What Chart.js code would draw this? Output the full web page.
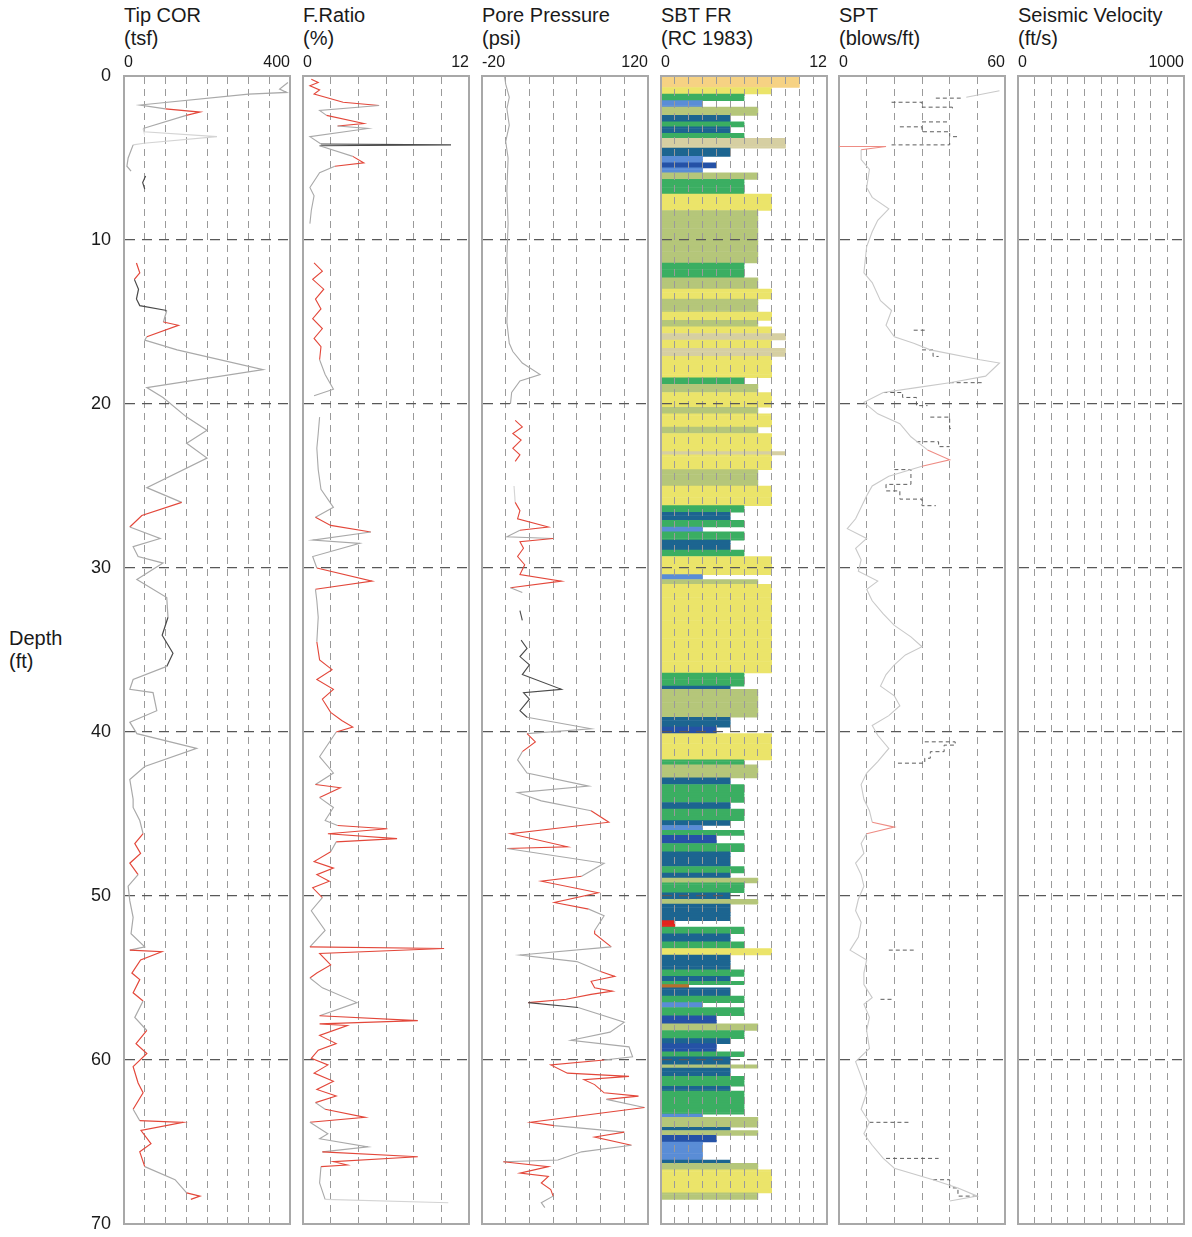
<!DOCTYPE html>
<html><head><meta charset="utf-8">
<script src="https://cdn.jsdelivr.net/npm/chart.js@4.4.1/dist/chart.umd.min.js"></script>
<style>
body{margin:0;background:#fff;width:1192px;height:1237px;position:relative;overflow:hidden;font-family:"Liberation Sans",Arial,sans-serif;}
.t{position:absolute;font-size:20px;line-height:23px;color:#1a1a1a;white-space:nowrap;}
canvas{position:absolute;}
</style></head><body>
<script>
// ---------------- DATA ----------------
const panelTitles = [["Tip COR","(tsf)"],["F.Ratio","(%)"],["Pore Pressure","(psi)"],["SBT FR","(RC 1983)"],["SPT","(blows/ft)"],["Seismic Velocity","(ft/s)"]];
const axisLabels = [["0","400"],["0","12"],["-20","120"],["0","12"],["0","60"],["0","1000"]];
const axisRanges = [[0,400,50],[0,12,2],[-20,120,20],[0,12,1],[0,60,10],[0,1000,100]];
const depthTicks = [0,10,20,30,40,50,60,70];
const depthTickLabels = ["0","10","20","30","40","50","60","70"];
const depthTitle = ["Depth","(ft)"];

// [depth ft, value]; null = gap in record
const tipProfile = [[0.4,395],[0.8,375],[1.0,392],[1.1,300],[1.77,39],[2.0,100],[2.2,183],[2.4,150],[3.2,46],[3.4,48],[3.7,224],[4.1,48],[4.2,22],[5.0,10],[5.5,7],[5.8,17],null,[6.1,52],[6.5,45],[6.9,50],null,[11.4,30],[12.0,38],[12.4,25],[13.0,35],[13.6,30],[14.0,38],[14.3,103],[15.0,95],[15.2,131],[15.9,55],[16.1,50],[16.7,128],[17.9,335],[19.0,55],[19.6,94],[20.8,151],[21.6,200],[22.4,151],[23.3,200],[25.1,55],[26.0,139],[26.8,43],[27.5,14],[28.2,87],[28.7,22],[29.3,34],[29.7,94],[30.7,31],[31.8,103],[33.0,106],[34.1,92],[35.2,118],[36.0,103],[36.8,22],[37.4,14],[37.6,70],[38.7,79],[39.4,14],[40.1,31],[41.0,175],[42.1,50],[42.9,14],[44.1,22],[44.6,22],[45.4,38],[46.2,46],[46.8,26],[47.4,40],[48.0,14],[48.7,34],[49.4,10],[50.3,14],[51.3,22],[52.3,17],[53.1,50],[53.3,14],[53.4,91],[53.9,40],[54.7,19],[55.1,38],[55.9,22],[56.4,46],[57.4,26],[58.2,55],[59.0,29],[59.6,55],[60.4,22],[61.4,34],[62.0,46],[63.0,22],[63.7,38],[63.8,142],[64.3,41],[65.1,65],[65.6,38],[66.5,50],[67.3,123],[68.1,151],[68.3,183],[68.5,161]];
const tipFlagged = [[2.15,2.25],[11.3,12.05],[15.05,15.25],[26.75,26.85],[46.75,48.05],[53.35,55.95],[58.95,59.05],[60.35,62.05],[63.75,63.85],[65.05,65.65],[68.25,68.55]];
const tipDark = [[6.0,7.0],[12.3,14.05],[34.05,35.25]];
const tipFaint = [[3.35,4.15]];

const frProfile = [[0.2,0.6],[0.4,1.1],[0.6,0.5],[0.85,1.2],[1.1,0.8],[1.6,2.9],[1.8,5.5],[2.1,1.2],[2.4,1.7],[2.9,4.4],[3.05,2.5],[3.2,4.7],[3.7,0.5],[4.15,1.3],[4.2,10.7],[4.25,1.2],[4.9,3.6],[5.3,4.4],[5.5,2.3],[5.9,1.2],[6.8,0.5],[7.3,0.8],[8.2,0.6],[9.0,0.5],null,[11.4,0.8],[11.9,1.4],[12.4,0.7],[13.0,1.5],[13.6,0.9],[14.2,1.3],[14.8,0.7],[15.4,1.4],[16.0,0.8],[16.5,1.3],[17.3,1.2],[18.2,1.6],[19.1,2.2],[19.5,0.8],null,[20.8,1.2],[21.8,1.1],[22.7,1.0],[24.0,1.1],[25.2,1.3],[26.3,2.2],[26.9,0.9],[27.4,2.0],[27.8,4.9],[28.3,0.7],[28.5,4.1],[29.3,0.7],[30.0,1.0],[30.8,5.0],[31.3,0.9],[32.0,1.0],[33.0,1.1],[34.5,1.0],[35.6,1.2],[36.2,2.1],[36.8,1.0],[37.4,2.2],[38.0,1.4],[38.8,2.0],[39.3,2.8],[39.7,3.6],[40.0,2.4],[41.5,1.2],[42.5,2.2],[43.2,0.9],[43.4,2.7],[44.0,1.2],[44.6,2.2],[45.4,1.6],[45.7,2.5],[45.9,6.1],[46.2,1.8],[46.5,6.8],[46.7,2.4],[47.3,2.0],[47.9,0.8],[48.3,2.2],[48.7,1.0],[49.1,1.9],[49.5,0.7],[50.1,1.4],[50.9,0.6],[52.1,1.6],[53.1,0.5],[53.2,10.2],[53.5,1.2],[54.2,2.0],[54.7,1.0],[55.0,0.5],[55.6,1.4],[56.5,3.9],[57.3,1.2],[57.6,8.3],[57.8,1.2],[57.9,3.2],[58.5,1.2],[59.0,2.4],[59.4,1.1],[59.9,0.6],[60.3,1.8],[60.8,0.8],[61.3,2.2],[61.8,1.0],[62.2,2.4],[62.6,0.9],[63.0,1.6],[63.5,4.5],[63.8,0.5],[64.5,1.8],[64.8,1.2],[65.3,4.7],[65.6,1.4],[65.9,8.3],[66.2,2.2],[66.4,3.2],[66.5,1.3],[67.5,1.2],[68.5,1.6],[68.7,10.5]];
const frFlagged = [[0.1,0.9],[1.55,1.65],[2.85,2.95],[5.25,5.35],[11.3,16.6],[27.35,27.45],[30.75,30.85],[35.5,39.75],[43.35,43.45],[45.85,45.95],[46.45,46.55],[47.8,49.6],[53.15,53.25],[54.1,54.8],[57.55,57.65],[57.85,59.45],[60.25,60.35],[61.25,61.35],[62.15,62.25],[63.45,63.55],[65.85,65.95],[66.35,66.45]];
const frDark = [[4.19,4.21]];
const frFaint = [[68.6,68.8]];

const poreProfile = [[0.0,-1],[0.5,0],[1.3,3],[2.0,1],[3.0,3],[4.0,0],[5.0,2],[7.0,1],[9.0,2],[11.0,1],[13.0,2],[15.0,1],[16.3,3],[16.8,6],[17.5,14],[18.2,29],[18.6,12],[19.3,5],[20.0,4],null,[21.0,8],[21.4,14],[21.8,6],[22.2,13],[22.7,6],[23.1,12],[23.5,8],null,[25.0,7],[26.0,8],[26.5,12],[27.0,10],[27.5,36],[27.7,12],[28.1,1],[28.2,40],[28.4,12],[28.8,15],[29.3,10],[29.8,16],[30.4,12],[30.8,47],[31.2,4],[31.5,14],null,[32.6,12],[33.2,14],null,[34.4,13],[34.9,18],[35.4,12],[35.9,20],[36.5,14],[37.4,47],[37.6,15],[38.0,20],[38.7,12],[39.1,18],[39.8,72],[40.1,18],[40.6,25],[41.2,14],[41.7,10],[42.5,18],[43.3,70],[43.7,10],[44.2,30],[44.8,72],[45.5,87],[46.2,4],[47.0,52],[47.1,1],[48.0,83],[48.8,64],[49.1,30],[49.8,78],[50.4,41],[50.8,70],[51.2,83],[52.1,75],[52.3,75],[53.1,89],[53.6,12],[54.0,60],[54.6,80],[54.9,92],[55.2,72],[55.6,75],[55.8,90],[56.0,72],[56.3,51],[56.5,19],[56.8,61],[57.7,100],[58.3,88],[58.8,55],[59.2,104],[59.8,107],[60.0,83],[60.3,38],[60.8,52],[61.0,104],[61.2,66],[61.5,75],[62.0,83],[62.2,112],[62.4,85],[62.9,117],[63.8,21],[64.0,41],[64.4,100],[64.7,75],[65.2,106],[65.6,64],[66.1,44],[66.2,-2],[66.5,36],[66.9,12],[67.1,36],[67.5,30],[67.9,38],[68.3,40],[68.7,30],[69.0,33]];
const poreFlagged = [[20.9,23.6],[26.45,27.55],[28.35,30.85],[40.55,40.65],[45.45,45.55],[46.95,47.05],[49.05,49.15],[50.35,50.45],[52.25,52.35],[54.85,54.95],[55.55,55.85],[56.25,56.35],[60.25,62.25],[63.75,63.85],[64.65,64.75],[66.45,66.55],[67.05,67.95]];
const poreDark = [[32.5,39.05],[56.45,56.55]];
const poreFaint = [[24.9,26.1]];

// SBT layers: [top depth ft, zone]; each layer runs to the next top
const sbtLayers = [[0.0,10],[0.7,8],[1.1,6],[1.5,3],[1.9,7],[2.4,5],[2.8,6],[3.1,5],[3.5,6],[3.8,9],[4.4,5],[4.9,3],[5.3,4],[5.6,3],[5.9,7],[6.3,6],[7.2,8],[8.2,7],[11.4,6],[12.3,7],[13.0,8],[13.6,7],[14.4,8],[14.9,7],[15.3,8],[15.7,9],[16.1,8],[16.6,9],[17.1,8],[18.4,6],[18.8,7],[19.3,8],[20.2,7],[20.6,8],[21.4,7],[21.8,8],[22.9,9],[23.1,8],[24.0,7],[25.0,8],[26.2,6],[26.6,5],[27.1,6],[27.5,3],[27.8,6],[28.3,5],[28.9,6],[29.3,8],[30.4,3],[30.7,7],[31.0,8],[36.4,6],[37.2,5],[37.4,7],[39.1,5],[39.7,4],[40.1,8],[41.7,6],[42.0,7],[42.8,5],[43.2,6],[44.3,5],[44.7,6],[45.4,5],[45.7,3],[46.0,6],[46.3,4],[46.8,6],[47.3,5],[48.2,6],[48.6,5],[48.9,7],[49.2,6],[49.8,5],[50.2,7],[50.5,5],[51.5,1],[51.9,6],[52.3,5],[52.8,6],[53.2,8],[53.6,5],[54.5,6],[54.9,5],[55.2,6],[55.4,2],[55.6,5],[56.1,6],[56.5,3],[56.8,6],[57.3,4],[57.8,7],[58.2,6],[58.7,5],[59.0,4],[59.5,6],[59.8,5],[60.3,7],[60.5,5],[61.0,6],[61.6,5],[61.9,6],[63.3,3],[63.5,7],[64.1,5],[64.3,7],[64.6,4],[65.0,3],[66.1,5],[66.3,7],[66.7,8],[68.1,7],[68.5,null]];

const sptProfile = [[0.9,58],[1.3,46],null,[4.3,0],[4.3,17],[4.5,8],[5.1,8],[5.7,11],[6.8,10],[7.4,12],[8.1,18],[8.8,14],[9.5,12],[10.4,10],[12.0,9],[12.6,12],[13.7,15],[14.3,19],[15.2,17],[15.9,20],[16.3,27],[16.7,33],[17.3,51],[17.5,58],[18.3,53],[18.7,40],[19.0,28],[19.3,16],[19.9,9],[20.6,14],[21.2,22],[22.0,26],[22.8,32],[23.4,40],[23.8,30],[24.4,18],[25.0,12],[25.6,10],[26.3,8],[27.0,6],[27.6,3],[28.2,10],[28.8,6],[29.5,8],[30.2,7],[30.8,14],[31.3,10],[32.0,12],[32.8,16],[33.5,20],[34.2,26],[34.8,30],[35.3,24],[35.9,20],[36.5,17],[37.2,15],[37.8,20],[38.4,22],[39.0,18],[39.6,12],[40.2,14],[41.0,18],[41.8,14],[42.5,10],[43.2,8],[44.1,9],[44.8,11],[45.5,12],[45.8,20],[46.2,10],[46.8,8],[47.4,9],[48.0,6],[48.7,8],[49.4,9],[50.2,7],[50.9,6],[51.6,8],[52.5,7],[53.3,4],[53.9,10],[54.7,9],[55.4,9],[56.2,12],[56.6,9],[57.4,11],[58.2,10],[59.3,11],[60.1,6],[61.0,8],[62.0,10],[63.0,8],[63.8,11],[64.5,9],[65.2,12],[66.0,16],[66.6,20],[67.3,34],[67.8,43],[68.3,50],[68.6,40]];
const sptFlagged = [[4.25,4.35],[23.35,23.45],[45.75,45.85]];
const sptSteps = [[1.35,35],[1.35,44],null,[1.6,19],[1.6,30],[1.9,30],[1.9,41],[2.1,41],null,[2.8,30],[2.8,40],null,[3.1,22],[3.1,30],[3.4,30],[3.4,40],[3.7,40],[3.7,43],null,[4.2,19],[4.2,40],[4.0,40],null,[15.5,27],[15.5,32],null,[16.7,30],[16.7,34],[17.1,34],[17.1,36],null,[18.7,40],[18.7,52],null,[19.3,16],[19.3,23],[19.6,23],[19.6,28],[20.1,28],[20.1,32],null,[20.8,33],[20.8,40],[21.5,40],[21.5,41],null,[22.3,28],[22.3,36],[22.6,36],[22.6,40],null,[24.0,20],[24.0,26],[24.9,26],[24.9,17],[25.3,17],[25.3,22],[25.8,22],[25.8,30],[26.2,30],[26.2,35],null,[40.6,31],[40.6,42],[40.8,42],[40.8,38],[41.2,38],[41.2,33],[41.6,33],[41.6,31],[41.9,31],[41.9,21],null,[53.3,18],[53.3,27],null,[56.3,15],[56.3,19],null,[63.8,11],[63.8,26],null,[66.0,17],[66.0,36],null,[67.3,34],[67.3,40],[67.8,40],[67.8,43],[68.3,43],[68.3,50]];

const seismicProfile = [];

// ---------------- STYLE / LAYOUT ----------------
const FONT = '"Liberation Sans", Arial, sans-serif';
const panelLefts = [124, 303, 482, 661, 839, 1018];
const PW = 166, TOPC = 40, AXIS_H = 36, PLOT_H = 1148, PADB = 12, PADS = 4, YLAB_W = 64;
const zoneColors = {1:'#e3231d',2:'#b8702e',3:'#5a8dd6',4:'#2552a6',5:'#1c6590',6:'#3bae62',7:'#b5c67a',8:'#ebe46a',9:'#d6cfa2',10:'#f6d283'};
const C_GRAY='#a9a9a9', C_DARK='#4a4a4a', C_RED='#e3473a', C_FAINT='#d4d4d4';

function toPoints(profile){ return profile.map(p => p ? {x:p[1], y:p[0]} : {x:null, y:null}); }
function inAny(d, list){ return list.some(r => d >= r[0] && d <= r[1]); }
function segColor(flag, dark, faint, base, red){
  return ctx => {
    const a = ctx.p0.parsed.y, b = ctx.p1.parsed.y;
    if (inAny(a,flag) || inAny(b,flag)) return red || C_RED;
    if (inAny(a,dark) || inAny(b,dark)) return C_DARK;
    if (inAny(a,faint) || inAny(b,faint)) return C_FAINT;
    return base;
  };
}
const noPad = s => { s.paddingTop = 0; s.paddingBottom = 0; s.paddingLeft = 0; s.paddingRight = 0; };

function topAxis(i, onTop){
  const [min,max,step] = axisRanges[i];
  return {type:'linear', position:'top', min, max, offset:false,
    ticks:{stepSize:step, autoSkip:false, maxRotation:0, minRotation:0, align:'inner', padding:4,
      font:{size:16, family:FONT}, color:'#1a1a1a',
      callback:(v,idx,t)=> idx===0 ? axisLabels[i][0] : (idx===t.length-1 ? axisLabels[i][1] : '')},
    grid:{drawTicks:false, lineWidth:1, offset:false, z:onTop?1:-1,
      color:c => (c.tick && (Math.abs(c.tick.value-min)<1e-9 || Math.abs(c.tick.value-max)<1e-9)) ? 'rgba(0,0,0,0)' : '#9a9a9a'},
    border:{display:true, color:'#a8a8a8', width:2, dash:[7,5], z:onTop?1:0},
    afterFit:s=>{s.height=AXIS_H; noPad(s);}};
}
function bottomAxis(i){
  const [min,max] = axisRanges[i];
  return {type:'linear', position:'bottom', min, max, offset:false, ticks:{display:false}, grid:{display:false, drawTicks:false, offset:false},
    border:{display:true, color:'#a8a8a8', width:2, z:1}, afterFit:s=>{s.height=0; noPad(s);}};
}
function depthAxis(showLabels, onTop){
  return {type:'linear', position:'left', min:0, max:70, reverse:true, offset:false,
    ticks:{display:showLabels, stepSize:10, autoSkip:false, padding:13, font:{size:18, family:FONT}, color:'#1a1a1a',
      callback:v => { const k = depthTicks.indexOf(v); return k>=0 ? depthTickLabels[k] : ''; }},
    grid:{drawTicks:false, lineWidth:1.3, offset:false, z:onTop?1:-1,
      color:c => (c.tick && (c.tick.value===0 || c.tick.value===70)) ? 'rgba(0,0,0,0)' : '#585858'},
    border:{display:true, color:'#a8a8a8', width:2, dash:[10,7], z:onTop?1:0},
    afterFit:s=>{s.width = showLabels ? YLAB_W : 0; noPad(s);}};
}
function rightAxis(){
  return {type:'linear', position:'right', min:0, max:70, reverse:true, offset:false, ticks:{display:false}, grid:{display:false, drawTicks:false, offset:false},
    border:{display:true, color:'#a8a8a8', width:2, z:1}, afterFit:s=>{s.width=0; noPad(s);}};
}

function makeCanvas(i){
  const yW = i===0 ? YLAB_W : 0;
  const c = document.createElement('canvas');
  const w = PADS + yW + PW + PADS, h = AXIS_H + PLOT_H + PADB;
  c.width = w; c.height = h;
  c.style.left = (panelLefts[i] - yW - PADS) + 'px';
  c.style.top = TOPC + 'px';
  c.style.width = w + 'px'; c.style.height = h + 'px';
  document.body.appendChild(c);
  return c;
}
const baseOpts = {responsive:false, animation:false, devicePixelRatio:1, events:[],
  layout:{padding:{left:PADS, right:PADS, top:0, bottom:PADB}},
  plugins:{legend:{display:false}, tooltip:{enabled:false}}};

function linePanel(i, datasets){
  new Chart(makeCanvas(i), {type:'scatter', data:{datasets},
    options:Object.assign({}, baseOpts, {scales:{x:topAxis(i,false), xb:bottomAxis(i), y:depthAxis(i===0,false), yr:rightAxis()}})});
}
function traceDS(profile, flag, dark, faint, base, width, red){
  return {data:toPoints(profile), showLine:true, pointRadius:0, borderWidth:width||1.1, borderColor:base,
    spanGaps:false, xAxisID:'x', yAxisID:'y', segment:{borderColor:segColor(flag,dark,faint,base,red)}};
}

// titles
panelTitles.forEach((t,i)=>{
  const d = document.createElement('div'); d.className='t';
  d.style.left = panelLefts[i]+'px'; d.style.top='4px';
  d.innerHTML = t[0] + '<br>' + t[1];
  document.body.appendChild(d);
});
const dt = document.createElement('div'); dt.className='t';
dt.style.left='9px'; dt.style.top='627px'; dt.innerHTML = depthTitle[0]+'<br>'+depthTitle[1];
document.body.appendChild(dt);

// panels
linePanel(0, [traceDS(tipProfile, tipFlagged, tipDark, tipFaint, C_GRAY, 1.2)]);
linePanel(1, [traceDS(frProfile, frFlagged, frDark, frFaint, C_GRAY, 1.1)]);
linePanel(2, [traceDS(poreProfile, poreFlagged, poreDark, poreFaint, C_GRAY, 1.1)]);

// SBT as horizontal bars on 0.1 ft rows
(function(){
  const rows = [], labels = [], colors = [];
  const nRows = 700;
  for (let r=0; r<nRows; r++){
    const mid = (r+0.5)*0.1;
    let zone = null;
    for (let k=0; k<sbtLayers.length; k++){ if (sbtLayers[k][0] <= mid) zone = sbtLayers[k][1]; else break; }
    rows.push(zone); labels.push(String(r)); colors.push(zone ? zoneColors[zone] : 'rgba(0,0,0,0)');
  }
  new Chart(makeCanvas(3), {type:'bar',
    data:{labels, datasets:[{data:rows, backgroundColor:colors, borderWidth:0, barPercentage:1, categoryPercentage:1, xAxisID:'x', yAxisID:'yc'}]},
    options:Object.assign({}, baseOpts, {indexAxis:'y',
      scales:{x:topAxis(3,true), xb:bottomAxis(3), y:depthAxis(false,true), yr:rightAxis(),
        yc:{type:'category', position:'left', display:false, offset:true, afterFit:s=>{s.width=0; noPad(s);}}}})});
})();

linePanel(4, [traceDS(sptProfile, sptFlagged, [], [], '#c9c9c9', 1.1, '#ee8c84'),
  Object.assign(traceDS(sptSteps, [], [], [], '#5c5c5c', 1.0), {borderDash:[4,3]})]);
linePanel(5, [traceDS(seismicProfile, [], [], [], C_GRAY, 1)]);
</script>
</body></html>
